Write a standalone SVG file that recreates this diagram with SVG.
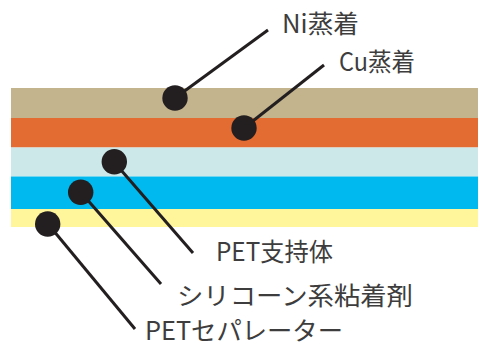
<svg xmlns="http://www.w3.org/2000/svg" width="478" height="347" viewBox="0 0 478 347">
<style>
.lbl{font-family:"Noto Sans CJK JP","Noto Sans",sans-serif;font-size:25px;fill:#3d3d3d;}
.ln{stroke:#231f20;stroke-width:3;stroke-linecap:butt;fill:none;}
.dot{fill:#231f20;}
</style>
<rect width="478" height="347" fill="#ffffff"/>
<g id="layers">
<rect id="layer-ni" x="11" y="88" width="467" height="30" fill="#c3b48e"/>
<rect id="layer-cu" x="11" y="118" width="467" height="29.5" fill="#e36c32"/>
<rect id="layer-pet" x="11" y="147.5" width="467" height="29" fill="#cce8e8"/>
<rect id="layer-si" x="11" y="176.5" width="467" height="32.5" fill="#00b9ef"/>
<rect id="layer-sep" x="11" y="209" width="467" height="18" fill="#fff59b"/>
</g>
<g id="connectors">
<line class="ln" x1="175" y1="98" x2="268" y2="30"/>
<line class="ln" x1="244" y1="128" x2="324" y2="65"/>
<line class="ln" x1="114" y1="162" x2="193" y2="253"/>
<line class="ln" x1="81" y1="192.5" x2="161" y2="284"/>
<line class="ln" x1="48" y1="224" x2="135" y2="329"/>
</g>
<g id="node-ni">
<circle class="dot" cx="175" cy="98" r="12.7"/>
<text class="lbl" x="282" y="33" textLength="77" lengthAdjust="spacingAndGlyphs">Ni蒸着</text>
</g>
<g id="node-cu">
<circle class="dot" cx="244" cy="128" r="12.7"/>
<text class="lbl" x="339" y="71" textLength="76" lengthAdjust="spacingAndGlyphs">Cu蒸着</text>
</g>
<g id="node-pet">
<circle class="dot" cx="114.3" cy="161.7" r="12.7"/>
<text class="lbl" x="216" y="261" textLength="117" lengthAdjust="spacingAndGlyphs">PET支持体</text>
</g>
<g id="node-si">
<circle class="dot" cx="80.7" cy="192.3" r="12.7"/>
<text class="lbl" x="177" y="305" textLength="236" lengthAdjust="spacingAndGlyphs">シリコーン系粘着剤</text>
</g>
<g id="node-sep">
<circle class="dot" cx="47.7" cy="224" r="12.7"/>
<text class="lbl" x="145" y="340" textLength="198" lengthAdjust="spacingAndGlyphs">PETセパレーター</text>
</g>
</svg>
